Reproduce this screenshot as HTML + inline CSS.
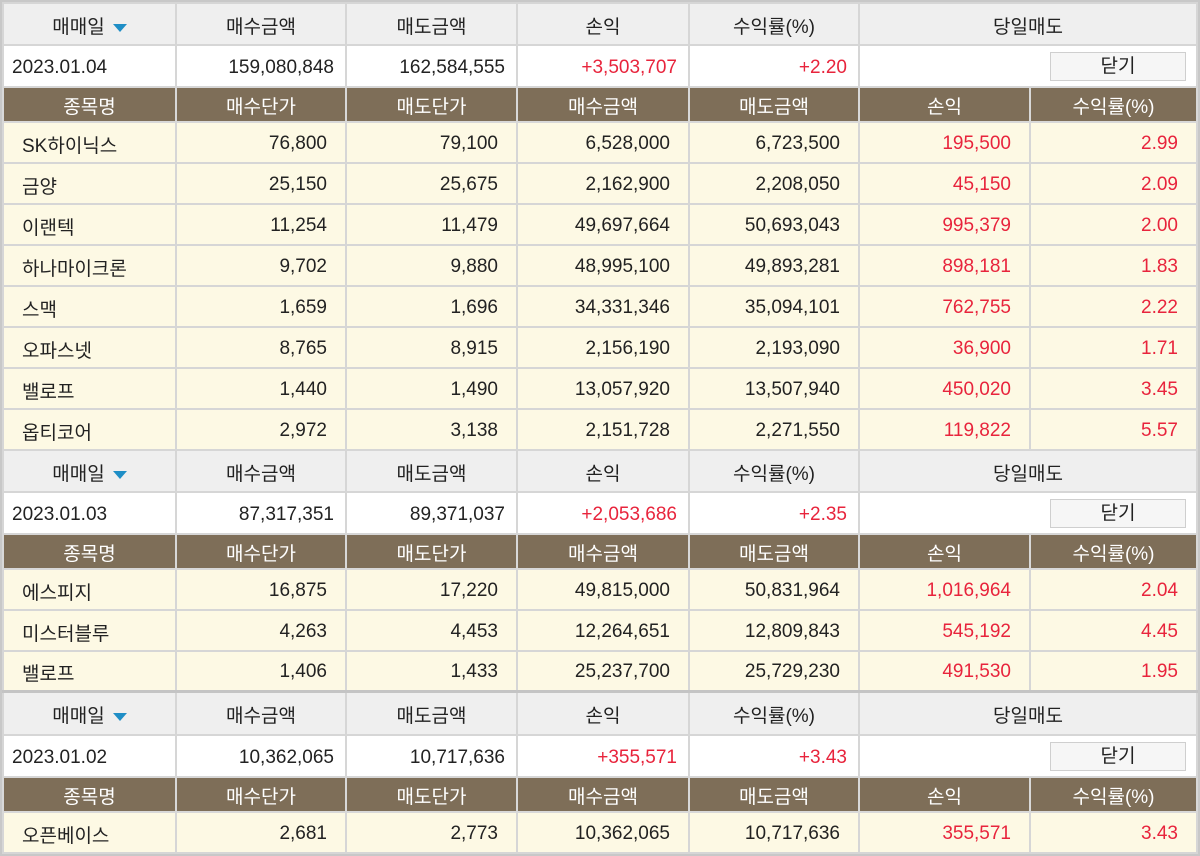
<!DOCTYPE html>
<html><head><meta charset="utf-8"><style>
html,body{margin:0;padding:0;background:#fff;}
body{width:1200px;height:854px;overflow:hidden;font-family:"Liberation Sans","Noto Sans CJK KR",sans-serif;font-size:19px;color:#222;}
.wrap{position:absolute;left:0;top:0;width:1196px;height:852px;border:2px solid #c8c8c8;background:#d4d4d4;}
table{border-collapse:collapse;table-layout:fixed;width:1196px;position:absolute;left:0;}
td{border:2px solid #d6d6d6;padding:3px 8px 0 8px;white-space:nowrap;overflow:hidden;}
.h td{background:#efefef;text-align:center;color:#222;}
.d td{background:#fff;text-align:right;padding-right:11px;}
.d td.l{text-align:left;padding-left:8px;}
.c td{background:#7e6e58;color:#fff;text-align:center;border-color:#d8d8d8;padding-top:1px;}
.r td{background:#fdf9e4;text-align:right;padding-right:18px;}
.r td.n{text-align:left;padding-left:18px;}
.red{color:#e8243c;}
.tri{display:inline-block;width:0;height:0;border-left:7px solid transparent;border-right:7px solid transparent;border-top:8px solid #1f8ec6;margin-left:8px;vertical-align:middle;}
.btn{display:inline-block;width:134px;height:27px;line-height:27px;border:1px solid #cfcfcf;background:#f6f6f6;text-align:center;margin-right:-1px;}
td.bt{padding-top:0;}
</style></head><body>
<div class="wrap">
<table style="top:0">
<colgroup><col style="width:173px"><col style="width:170px"><col style="width:171px"><col style="width:172px"><col style="width:170px"><col style="width:171px"><col></colgroup>
<tr class="h" style="height:42px"><td>매매일<span class="tri"></span></td><td>매수금액</td><td>매도금액</td><td>손익</td><td>수익률(%)</td><td colspan="2">당일매도</td></tr>
<tr class="d" style="height:42px"><td class="l">2023.01.04</td><td>159,080,848</td><td>162,584,555</td><td class="red">+3,503,707</td><td class="red">+2.20</td><td colspan="2" class="bt"><span class="btn">닫기</span></td></tr>
<tr class="c" style="height:35px"><td>종목명</td><td>매수단가</td><td>매도단가</td><td>매수금액</td><td>매도금액</td><td>손익</td><td>수익률(%)</td></tr>
<tr class="r" style="height:41px"><td class="n">SK하이닉스</td><td>76,800</td><td>79,100</td><td>6,528,000</td><td>6,723,500</td><td class="red">195,500</td><td class="red">2.99</td></tr>
<tr class="r" style="height:41px"><td class="n">금양</td><td>25,150</td><td>25,675</td><td>2,162,900</td><td>2,208,050</td><td class="red">45,150</td><td class="red">2.09</td></tr>
<tr class="r" style="height:41px"><td class="n">이랜텍</td><td>11,254</td><td>11,479</td><td>49,697,664</td><td>50,693,043</td><td class="red">995,379</td><td class="red">2.00</td></tr>
<tr class="r" style="height:41px"><td class="n">하나마이크론</td><td>9,702</td><td>9,880</td><td>48,995,100</td><td>49,893,281</td><td class="red">898,181</td><td class="red">1.83</td></tr>
<tr class="r" style="height:41px"><td class="n">스맥</td><td>1,659</td><td>1,696</td><td>34,331,346</td><td>35,094,101</td><td class="red">762,755</td><td class="red">2.22</td></tr>
<tr class="r" style="height:41px"><td class="n">오파스넷</td><td>8,765</td><td>8,915</td><td>2,156,190</td><td>2,193,090</td><td class="red">36,900</td><td class="red">1.71</td></tr>
<tr class="r" style="height:41px"><td class="n">밸로프</td><td>1,440</td><td>1,490</td><td>13,057,920</td><td>13,507,940</td><td class="red">450,020</td><td class="red">3.45</td></tr>
<tr class="r" style="height:41px"><td class="n">옵티코어</td><td>2,972</td><td>3,138</td><td>2,151,728</td><td>2,271,550</td><td class="red">119,822</td><td class="red">5.57</td></tr>
<tr class="h" style="height:42px"><td>매매일<span class="tri"></span></td><td>매수금액</td><td>매도금액</td><td>손익</td><td>수익률(%)</td><td colspan="2">당일매도</td></tr>
<tr class="d" style="height:42px"><td class="l">2023.01.03</td><td>87,317,351</td><td>89,371,037</td><td class="red">+2,053,686</td><td class="red">+2.35</td><td colspan="2" class="bt"><span class="btn">닫기</span></td></tr>
<tr class="c" style="height:35px"><td>종목명</td><td>매수단가</td><td>매도단가</td><td>매수금액</td><td>매도금액</td><td>손익</td><td>수익률(%)</td></tr>
<tr class="r" style="height:41px"><td class="n">에스피지</td><td>16,875</td><td>17,220</td><td>49,815,000</td><td>50,831,964</td><td class="red">1,016,964</td><td class="red">2.04</td></tr>
<tr class="r" style="height:41px"><td class="n">미스터블루</td><td>4,263</td><td>4,453</td><td>12,264,651</td><td>12,809,843</td><td class="red">545,192</td><td class="red">4.45</td></tr>
<tr class="r" style="height:40px"><td class="n">밸로프</td><td>1,406</td><td>1,433</td><td>25,237,700</td><td>25,729,230</td><td class="red">491,530</td><td class="red">1.95</td></tr>
<tr class="h" style="height:44px;border-top:3px solid #c4c4c4"><td>매매일<span class="tri"></span></td><td>매수금액</td><td>매도금액</td><td>손익</td><td>수익률(%)</td><td colspan="2">당일매도</td></tr>
<tr class="d" style="height:42px"><td class="l">2023.01.02</td><td>10,362,065</td><td>10,717,636</td><td class="red">+355,571</td><td class="red">+3.43</td><td colspan="2" class="bt"><span class="btn">닫기</span></td></tr>
<tr class="c" style="height:35px"><td>종목명</td><td>매수단가</td><td>매도단가</td><td>매수금액</td><td>매도금액</td><td>손익</td><td>수익률(%)</td></tr>
<tr class="r" style="height:41px"><td class="n">오픈베이스</td><td>2,681</td><td>2,773</td><td>10,362,065</td><td>10,717,636</td><td class="red">355,571</td><td class="red">3.43</td></tr>
</table>
</div>
</body></html>
